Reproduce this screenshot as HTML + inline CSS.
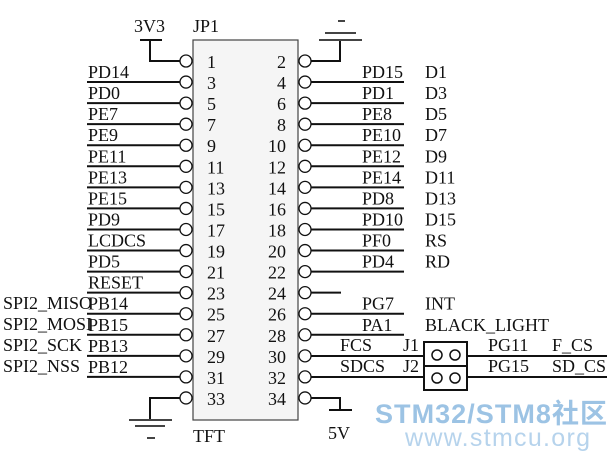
<!DOCTYPE html>
<html><head><style>
body{margin:0;background:#fff;}
svg{display:block;}
text{font-family:"Liberation Serif",serif;font-size:18px;fill:#111;}
</style></head><body>
<svg width="613" height="462" viewBox="0 0 613 462" xmlns="http://www.w3.org/2000/svg">
<rect x="193" y="40" width="105" height="380" fill="#f5f5f5" stroke="#444" stroke-width="1.2"/>
<g stroke="#111" stroke-width="2" fill="none">
<path d="M180 61 H150 V40 M140 40 H162"/>
<path d="M311 61 H340 V40"/>
<path d="M319 40 H362 M325 33 H356" stroke="#444"/>
<path d="M338 21 H345" stroke="#444"/>
<path d="M180 398 H150 V420"/>
<path d="M129 420 H172 M135 426 H165 M147 438 H155" stroke="#444"/>
<path d="M311 398 H340 V410 M329 410 H352"/>
</g>
<g id="pins"></g>
<text x="134" y="32">3V3</text>
<text x="193" y="32">JP1</text>
<text x="193" y="442">TFT</text>
<text x="328" y="439">5V</text>
<g stroke="#111" stroke-width="1.5" fill="none">
<rect x="424" y="342" width="43" height="48" stroke-width="2"/>
<line x1="424" y1="366" x2="467" y2="366" stroke-width="2"/>
<circle cx="437" cy="355" r="5"/><circle cx="455" cy="355" r="5"/>
<circle cx="437" cy="378" r="5"/><circle cx="455" cy="378" r="5"/>
<path d="M311 356 H424 M311 377 H424 M467 356 H607 M467 377 H607" stroke-width="2"/>
</g>
<text x="340" y="351">FCS</text><text x="403" y="351">J1</text>
<text x="340" y="372">SDCS</text><text x="403" y="372">J2</text>
<text x="488" y="351">PG11</text><text x="552" y="351">F_CS</text>
<text x="488" y="372">PG15</text><text x="552" y="372">SD_CS</text>
<text x="375" y="423" textLength="232" style="font-family:'Liberation Sans','Noto Sans CJK SC',sans-serif;font-size:27px;font-weight:bold;fill:#9cc3e4">STM32/STM8社区</text>
<text x="405" y="446" textLength="185" style="font-family:'Liberation Sans',sans-serif;font-size:25px;fill:#b6d3ec">www.stmcu.org</text>
<text x="3" y="309">SPI2_MISO</text>
<text x="3" y="330">SPI2_MOSI</text>
<text x="3" y="351">SPI2_SCK</text>
<text x="3" y="372">SPI2_NSS</text>
<script>
(function(){
var NS="http://www.w3.org/2000/svg",g=document.getElementById("pins");
function el(t,a,txt){var e=document.createElementNS(NS,t);for(var k in a)e.setAttribute(k,a[k]);if(txt)e.textContent=txt;g.appendChild(e);return e;}
var L=["",  "PD14","PD0","PE7","PE9","PE11","PE13","PE15","PD9","LCDCS","PD5","RESET","PB14","PB15","PB13","PB12",""];
var R=["","PD15","PD1","PE8","PE10","PE12","PE14","PD8","PD10","PF0","PD4","","PG7","PA1","","",""];
var D=["","D1","D3","D5","D7","D9","D11","D13","D15","RS","RD","","INT","BLACK_LIGHT","","",""];
for(var i=0;i<17;i++){
 var y=61+i*21.06;
 el("circle",{cx:186,cy:y,r:6,fill:"#fff",stroke:"#111","stroke-width":1.3});
 el("circle",{cx:305,cy:y,r:6,fill:"#fff",stroke:"#111","stroke-width":1.3});
 el("text",{x:207,y:y+7},String(2*i+1));
 el("text",{x:286,y:y+7,"text-anchor":"end"},String(2*i+2));
 if(L[i]){el("line",{x1:87,y1:y,x2:180,y2:y,stroke:"#111","stroke-width":2});el("text",{x:88,y:y-4},L[i]);}
 if(R[i]){el("line",{x1:311,y1:y,x2:404,y2:y,stroke:"#111","stroke-width":2});el("text",{x:362,y:y-4},R[i]);}
 if(D[i])el("text",{x:425,y:y-4},D[i]);
 if(i==11)el("line",{x1:311,y1:y,x2:341,y2:y,stroke:"#111","stroke-width":2});
}
})();
</script>
</svg>
</body></html>
